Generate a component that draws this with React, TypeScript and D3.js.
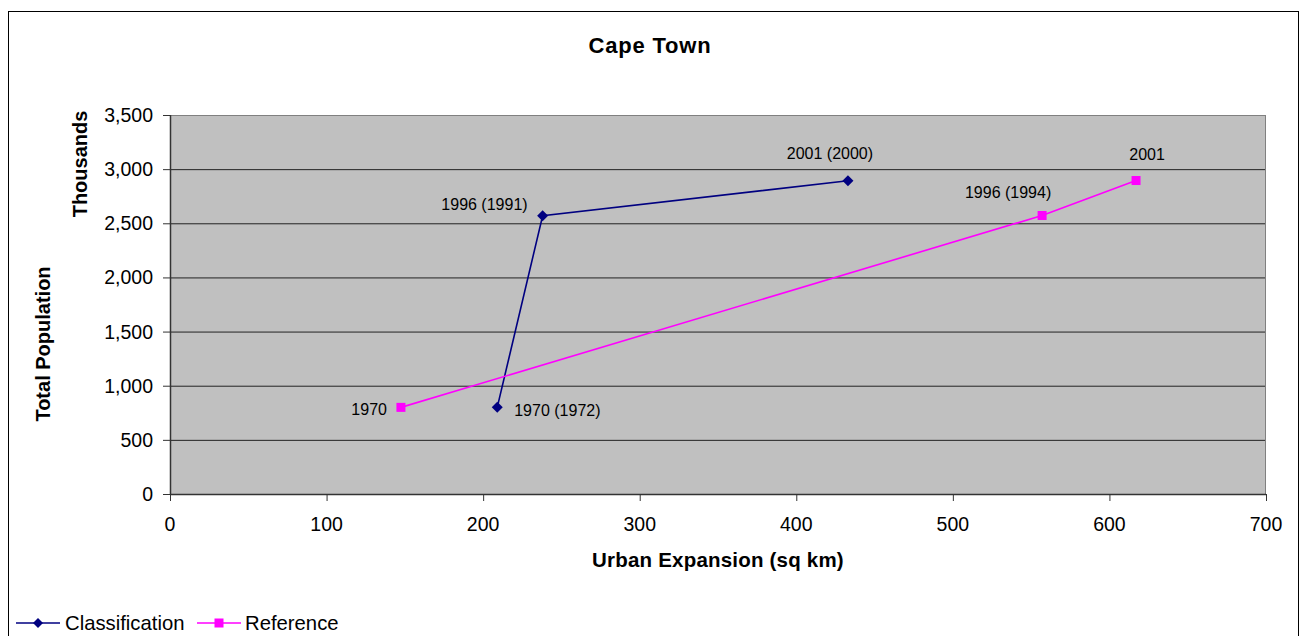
import React from "react";
import * as d3 from "d3";

const classLabels = ["1970 (1972)", "1996 (1991)", "2001 (2000)"];
const classArea = [209, 238, 433];
const classPop = [800, 2570, 2893];

const refLabels = ["1970", "1996 (1994)", "2001"];
const refArea = [147.5, 557, 617];
const refPop = [800, 2572, 2895];

const xTicks = [0, 100, 200, 300, 400, 500, 600, 700];
const yTicks = [0, 500, 1000, 1500, 2000, 2500, 3000, 3500];

// label placement (anchor, dx, dy) per point
const classLabelPos: [string, number, number][] = [
  ["start", 17, 9],
  ["end", -15, -6],
  ["middle", -18, -22],
];
const refLabelPos: [string, number, number][] = [
  ["end", -14, 8],
  ["middle", -34, -17],
  ["middle", 11, -21],
];

const W = 1303;
const H = 636;
const L = 170, R = 1266, T = 115, B = 494;
const FONT = "'Liberation Sans', Arial, sans-serif";

export default function App() {
  const x = d3.scaleLinear().domain([0, 700]).range([L, R]);
  const y = d3.scaleLinear().domain([0, 3500]).range([B, T]);
  const fmt = d3.format(",");
  const line = d3
    .line<[number, number]>()
    .x((d) => x(d[0]))
    .y((d) => y(d[1]));
  const cPts: [number, number][] = classArea.map((a, i) => [a, classPop[i]]);
  const rPts: [number, number][] = refArea.map((a, i) => [a, refPop[i]]);
  const navy = "#000080";
  const mag = "#FF00FF";
  const diamond = (cx: number, cy: number, r: number) =>
    `M${cx},${cy - r}L${cx + r},${cy}L${cx},${cy + r}L${cx - r},${cy}Z`;

  return (
    <svg
      width={W}
      height={H}
      style={{ position: "absolute", left: 0, top: 0, fontFamily: FONT }}
    >
      <rect x={0} y={0} width={W} height={H} fill="#fff" />
      <rect x={8.5} y={11.5} width={1290} height={700} fill="#fff" stroke="#000" strokeWidth={1} />
      <text x={650} y={53} textAnchor="middle" fontSize={22} fontWeight="bold" letterSpacing={0.8}>
        Cape Town
      </text>
      <rect x={L} y={T} width={R - L} height={B - T} fill="#C0C0C0" />
      {yTicks.slice(1).map((t) => (
        <line key={"g" + t} x1={L} x2={R} y1={y(t) + 0.5} y2={y(t) + 0.5} stroke={t === 3500 ? "#808080" : "#222"} strokeWidth={1} />
      ))}
      <line x1={R - 0.5} x2={R - 0.5} y1={T} y2={B} stroke="#808080" strokeWidth={1} />
      {/* axes */}
      <line x1={L + 0.5} x2={L + 0.5} y1={T} y2={B} stroke="#333" strokeWidth={1.5} />
      <line x1={L} x2={R} y1={B + 0.5} y2={B + 0.5} stroke="#333" strokeWidth={1.5} />
      {yTicks.map((t) => (
        <g key={"y" + t}>
          <line x1={L - 7} x2={L} y1={y(t) + 0.5} y2={y(t) + 0.5} stroke="#333" />
          <text x={153} y={y(t) + 7} textAnchor="end" fontSize={19.5}>
            {fmt(t)}
          </text>
        </g>
      ))}
      {xTicks.map((t) => (
        <g key={"x" + t}>
          <line x1={x(t) + 0.5} x2={x(t) + 0.5} y1={B} y2={B + 7} stroke="#333" />
          <text x={x(t)} y={531} textAnchor="middle" fontSize={19.5}>
            {t}
          </text>
        </g>
      ))}
      <text x={718} y={567} textAnchor="middle" fontSize={20.5} fontWeight="bold" letterSpacing={0.2}>
        Urban Expansion (sq km)
      </text>
      <text transform="translate(50,344) rotate(-90)" textAnchor="middle" fontSize={20} fontWeight="bold">
        Total Population
      </text>
      <text transform="translate(87,164) rotate(-90)" textAnchor="middle" fontSize={20} fontWeight="bold">
        Thousands
      </text>
      {/* series */}
      <path d={line(cPts) || ""} fill="none" stroke={navy} strokeWidth={1.6} />
      <path d={line(rPts) || ""} fill="none" stroke={mag} strokeWidth={1.6} />
      {cPts.map((p, i) => (
        <path key={"cm" + i} d={diamond(x(p[0]), y(p[1]), 5.5)} fill={navy} />
      ))}
      {rPts.map((p, i) => (
        <rect key={"rm" + i} x={x(p[0]) - 4.5} y={y(p[1]) - 4.5} width={9} height={9} fill={mag} />
      ))}
      {cPts.map((p, i) => (
        <text
          key={"cl" + i}
          x={x(p[0]) + classLabelPos[i][1]}
          y={y(p[1]) + classLabelPos[i][2]}
          textAnchor={classLabelPos[i][0] as any}
          fontSize={16}
        >
          {classLabels[i]}
        </text>
      ))}
      {rPts.map((p, i) => (
        <text
          key={"rl" + i}
          x={x(p[0]) + refLabelPos[i][1]}
          y={y(p[1]) + refLabelPos[i][2]}
          textAnchor={refLabelPos[i][0] as any}
          fontSize={16}
        >
          {refLabels[i]}
        </text>
      ))}
      {/* legend */}
      <line x1={16} x2={60} y1={623} y2={623} stroke={navy} strokeWidth={1.6} />
      <path d={diamond(38, 623, 5)} fill={navy} />
      <text x={65} y={630} fontSize={20.3}>Classification</text>
      <line x1={197} x2={241} y1={623} y2={623} stroke={mag} strokeWidth={1.6} />
      <rect x={214.5} y={618.5} width={9} height={9} fill={mag} />
      <text x={245} y={630} fontSize={20.3}>Reference</text>
    </svg>
  );
}
